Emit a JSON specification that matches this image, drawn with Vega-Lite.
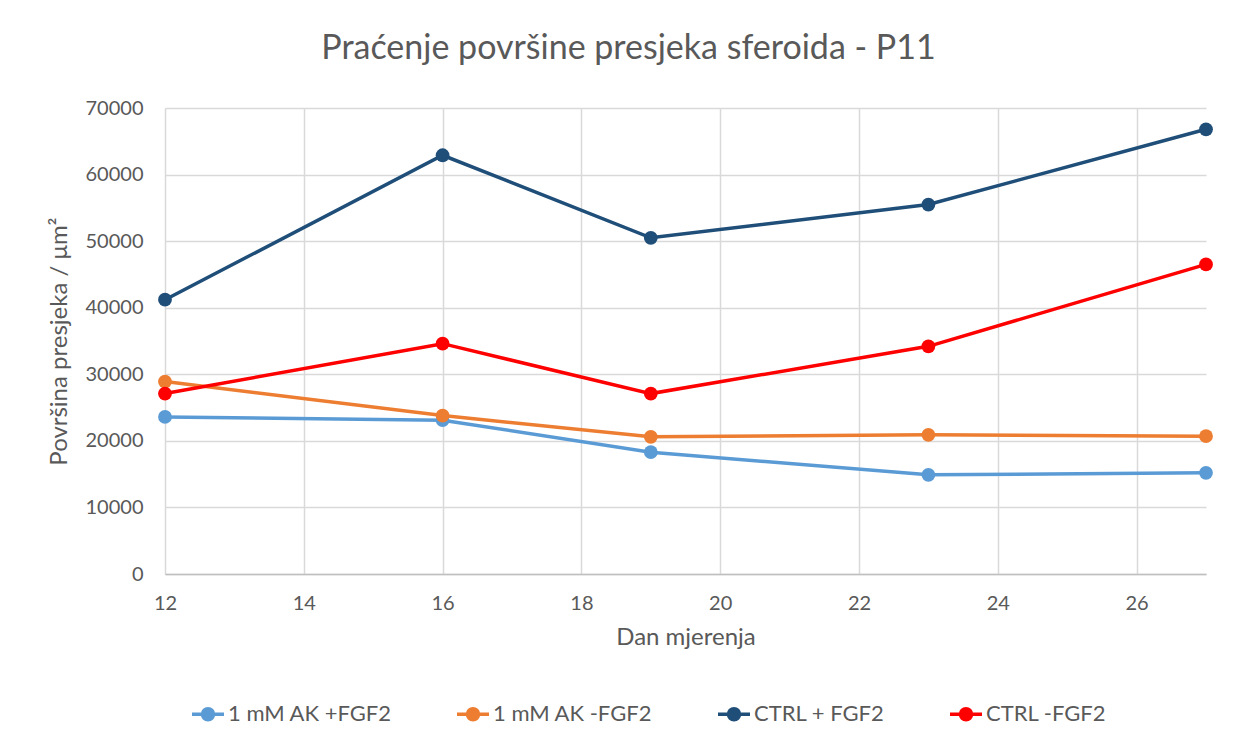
{
  "$schema": "https://vega.github.io/schema/vega-lite/v6.json",
  "autosize": "none",
  "width": 1041,
  "height": 466,
  "padding": {"left": 165, "top": 108, "right": 32, "bottom": 173},
  "background": "white",
  "config": {
    "font": "Lato",
    "view": {"stroke": null}
  },
  "title": {
    "text": "Praćenje površine presjeka sferoida - P11",
    "fontSize": 34,
    "font": "Lato",
    "fontWeight": "normal",
    "color": "#595959",
    "anchor": "middle",
    "frame": "group",
    "dx": -57,
    "offset": 32
  },
  "data": {
    "values": [
      {"dan": 12, "serija": "1 mM AK +FGF2", "povrsina": 23600},
      {"dan": 16, "serija": "1 mM AK +FGF2", "povrsina": 23100},
      {"dan": 19, "serija": "1 mM AK +FGF2", "povrsina": 18300},
      {"dan": 23, "serija": "1 mM AK +FGF2", "povrsina": 14900},
      {"dan": 27, "serija": "1 mM AK +FGF2", "povrsina": 15200},
      {"dan": 12, "serija": "1 mM AK -FGF2", "povrsina": 28900},
      {"dan": 16, "serija": "1 mM AK -FGF2", "povrsina": 23800},
      {"dan": 19, "serija": "1 mM AK -FGF2", "povrsina": 20600},
      {"dan": 23, "serija": "1 mM AK -FGF2", "povrsina": 20900},
      {"dan": 27, "serija": "1 mM AK -FGF2", "povrsina": 20700},
      {"dan": 12, "serija": "CTRL + FGF2", "povrsina": 41200},
      {"dan": 16, "serija": "CTRL + FGF2", "povrsina": 62900},
      {"dan": 19, "serija": "CTRL + FGF2", "povrsina": 50500},
      {"dan": 23, "serija": "CTRL + FGF2", "povrsina": 55500},
      {"dan": 27, "serija": "CTRL + FGF2", "povrsina": 66800},
      {"dan": 12, "serija": "CTRL -FGF2", "povrsina": 27100},
      {"dan": 16, "serija": "CTRL -FGF2", "povrsina": 34600},
      {"dan": 19, "serija": "CTRL -FGF2", "povrsina": 27100},
      {"dan": 23, "serija": "CTRL -FGF2", "povrsina": 34200},
      {"dan": 27, "serija": "CTRL -FGF2", "povrsina": 46500}
    ]
  },
  "encoding": {
    "x": {
      "field": "dan",
      "type": "quantitative",
      "scale": {"domain": [12, 27], "nice": false, "zero": false},
      "axis": {
        "title": "Dan mjerenja",
        "titleFontSize": 24,
        "titleFontWeight": "normal",
        "titleColor": "#595959",
        "titlePadding": 12,
        "values": [12, 14, 16, 18, 20, 22, 24, 26],
        "labelFontSize": 20,
        "labelColor": "#595959",
        "labelPadding": 19,
        "labelFlush": false,
        "labelBound": false,
        "domainColor": "#bfbfbf",
        "domainWidth": 1.5,
        "ticks": false,
        "gridColor": "#d9d9d9",
        "gridWidth": 1.5
      }
    },
    "y": {
      "field": "povrsina",
      "type": "quantitative",
      "scale": {"domain": [0, 70000], "nice": false},
      "axis": {
        "title": "Površina presjeka / μm²",
        "titleFontSize": 24,
        "titleFontWeight": "normal",
        "titleColor": "#595959",
        "titlePadding": 14,
        "values": [0, 10000, 20000, 30000, 40000, 50000, 60000, 70000],
        "format": "d",
        "labelFontSize": 20,
        "labelColor": "#595959",
        "labelPadding": 22,
        "domain": false,
        "ticks": false,
        "gridColor": "#d9d9d9",
        "gridWidth": 1.5
      }
    },
    "color": {
      "field": "serija",
      "type": "nominal",
      "sort": ["1 mM AK +FGF2", "1 mM AK -FGF2", "CTRL + FGF2", "CTRL -FGF2"],
      "scale": {
        "domain": ["1 mM AK +FGF2", "1 mM AK -FGF2", "CTRL + FGF2", "CTRL -FGF2"],
        "range": ["#5B9BD5", "#ED7D31", "#1F4E79", "#FF0000"]
      },
      "legend": {
        "title": null,
        "orient": "none",
        "direction": "horizontal",
        "legendX": 31,
        "legendY": 594,
        "labelFontSize": 22,
        "labelLimit": 400,
        "labelColor": "#595959",
        "labelOffset": 8,
        "columnPadding": 58,
        "symbolType": "M-1.6,0H1.6M0.55,0A0.55,0.55,0,1,1,-0.55,0A0.55,0.55,0,1,1,0.55,0Z",
        "symbolSize": 400,
        "symbolStrokeWidth": 3.5,
        "symbolOpacity": 1
      }
    }
  },
  "layer": [
    {
      "mark": {"type": "line", "strokeWidth": 3.5}
    },
    {
      "mark": {"type": "point", "filled": true, "size": 190, "opacity": 1}
    }
  ]
}
